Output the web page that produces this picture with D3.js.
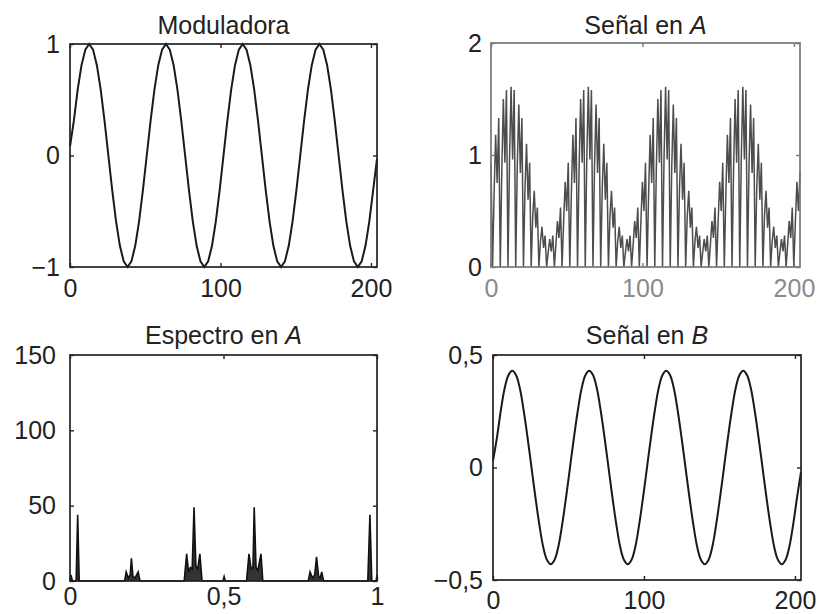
<!DOCTYPE html>
<html><head><meta charset="utf-8">
<script src="https://cdn.jsdelivr.net/npm/d3@7/dist/d3.min.js"></script>
<style>
body{margin:0;background:#fff}
text{font-family:"Liberation Sans",Arial,Helvetica,sans-serif}
</style>
</head><body>
<svg id="chart" width="827" height="614"></svg>
<script>
// ---------------- DATA ----------------
const timeTicks = [0, 100, 200];
const freqTicks = [0, 0.5, 1];
const freqTickLabels = ["0", "0,5", "1"];
const modTicks = [-1, 0, 1];
const aTicks = [0, 1, 2];
const specTicks = [0, 50, 100, 150];
const bTicks = [-0.5, 0, 0.5];
const bTickLabels = ["\u22120,5", "0", "0,5"];
const timeMax = 204;         // last sample index on the time axis
const sampleSpacing = 1.02;  // axis units per sample of the stored series

// Moduladora, one value every 2.5 samples
const moduladora = [
 0.08,0.31,0.59,0.81,0.95,1,0.95,0.81,0.59,0.31,0,-0.31,-0.59,-0.81,-0.95,-1,-0.95,-0.81,-0.59,-0.31,
 0,0.31,0.59,0.81,0.95,1,0.95,0.81,0.59,0.31,0,-0.31,-0.59,-0.81,-0.95,-1,-0.95,-0.81,-0.59,-0.31,
 0,0.31,0.59,0.81,0.95,1,0.95,0.81,0.59,0.31,0,-0.31,-0.59,-0.81,-0.95,-1,-0.95,-0.81,-0.59,-0.31,
 0,0.31,0.59,0.81,0.95,1,0.95,0.81,0.59,0.31,0,-0.31,-0.59,-0.81,-0.95,-1,-0.95,-0.81,-0.59,-0.31,
 -0.03];
const modStep = 2.5;

// Señal en A, one value per sample
const senalA = [
 0.93,0,0.65,1.18,0.75,1.33,0,0.87,1.50,0.93,1.58,0,0.97,1.61,0.96,1.58,0,0.90,1.45,0.84,1.33,0,0.70,1.10,0.60,0.93,0,0.45,0.68,0.35,0.53,0,0.23,0.36,0.17,0.28,0,0.13,0.25,0.14,0.28,0,0.20,0.41,0.26,0.53,0,0.40,0.76,0.50,
 0.93,0,0.65,1.18,0.75,1.33,0,0.87,1.50,0.93,1.58,0,0.97,1.61,0.96,1.58,0,0.90,1.45,0.84,1.33,0,0.70,1.10,0.60,0.93,0,0.45,0.68,0.35,0.53,0,0.23,0.36,0.17,0.28,0,0.13,0.25,0.14,0.28,0,0.20,0.41,0.26,0.53,0,0.40,0.76,0.50,
 0.93,0,0.65,1.18,0.75,1.33,0,0.87,1.50,0.93,1.58,0,0.97,1.61,0.96,1.58,0,0.90,1.45,0.84,1.33,0,0.70,1.10,0.60,0.93,0,0.45,0.68,0.35,0.53,0,0.23,0.36,0.17,0.28,0,0.13,0.25,0.14,0.28,0,0.20,0.41,0.26,0.53,0,0.40,0.76,0.50,
 0.93,0,0.65,1.18,0.75,1.33,0,0.87,1.50,0.93,1.58,0,0.97,1.61,0.96,1.58,0,0.90,1.45,0.84,1.33,0,0.70,1.10,0.60,0.93,0,0.45,0.68,0.35,0.53,0,0.23,0.36,0.17,0.28,0,0.13,0.25,0.14,0.28,0,0.20,0.41,0.26,0.53,0,0.40,0.76,0.50,
 0.85];

// Señal en B, one value every 2.5 samples
const senalB = [
 0.03,0.13,0.25,0.35,0.41,0.43,0.41,0.35,0.25,0.13,0,-0.13,-0.25,-0.35,-0.41,-0.43,-0.41,-0.35,-0.25,-0.13,
 0,0.13,0.25,0.35,0.41,0.43,0.41,0.35,0.25,0.13,0,-0.13,-0.25,-0.35,-0.41,-0.43,-0.41,-0.35,-0.25,-0.13,
 0,0.13,0.25,0.35,0.41,0.43,0.41,0.35,0.25,0.13,0,-0.13,-0.25,-0.35,-0.41,-0.43,-0.41,-0.35,-0.25,-0.13,
 0,0.13,0.25,0.35,0.41,0.43,0.41,0.35,0.25,0.13,0,-0.13,-0.25,-0.35,-0.41,-0.43,-0.41,-0.35,-0.25,-0.13,
 -0.02];
const bStep = 2.5;

// Espectro en A (normalised frequency, magnitude)
const specFreq = [0,0.003,0.008,0.02,0.025,0.03,
 0.178,0.183,0.19,0.196,0.2,0.205,0.212,0.222,0.228,
 0.372,0.38,0.386,0.392,0.398,0.404,0.41,0.416,0.423,0.43,
 0.498,0.502,0.506,
 0.575,0.583,0.59,0.596,0.6,0.606,0.612,0.622,0.628,
 0.776,0.782,0.79,0.797,0.803,0.81,0.815,0.82,0.826,
 0.97,0.977,0.983,0.997,1];
const specMag = [0,4,0,0,44,0,
 0,6,2,4,15,3,2,6,0,
 0,18,6,9,8,49,10,8,18,0,
 0,3,0,
 0,18,8,9,49,9,7,18,0,
 0,6,2,4,16,3,2,6,0,
 0,44,0,0,4];

// ---------------- DRAW ----------------
const svg = d3.select("#chart");
const FS = 25;

function panel(o) {
  const x = d3.scaleLinear().domain(o.xDomain).range([o.x0, o.x1]);
  const y = d3.scaleLinear().domain(o.yDomain).range([o.y1, o.y0]);
  const g = svg.append("g");
  // data
  o.draw(g, x, y);
  // box
  g.append("rect").attr("x", o.x0).attr("y", o.y0).attr("width", o.x1 - o.x0).attr("height", o.y1 - o.y0)
    .attr("fill", "none").attr("stroke", o.boxColor).attr("stroke-width", 1.7);
  // inward ticks
  const tk = (ax, tx, ty) => {
    const a = g.append("g").attr("transform", `translate(${tx},${ty})`).call(ax);
    a.select(".domain").remove();
    a.selectAll("line").attr("stroke", o.boxColor).attr("stroke-width", 1.4);
  };
  tk(d3.axisBottom(x).tickValues(o.xTicks).tickSize(-4).tickFormat(""), 0, o.y1);
  tk(d3.axisTop(x).tickValues(o.xTicks).tickSize(-4).tickFormat(""), 0, o.y0);
  tk(d3.axisLeft(y).tickValues(o.yTicks).tickSize(-4).tickFormat(""), o.x0, 0);
  tk(d3.axisRight(y).tickValues(o.yTicks).tickSize(-4).tickFormat(""), o.x1, 0);
  // labels
  const xa = g.append("g").attr("transform", `translate(0,${o.y1})`)
    .call(d3.axisBottom(x).tickValues(o.xTicks).tickSize(0).tickPadding(o.xPad).tickFormat((d, i) => o.xLabels[i]));
  xa.select(".domain").remove();
  xa.selectAll("text").attr("font-size", FS).attr("font-family", "Liberation Sans, Arial, sans-serif").attr("fill", o.xLabelColor);
  const ya = g.append("g").attr("transform", `translate(${o.x0},0)`)
    .call(d3.axisLeft(y).tickValues(o.yTicks).tickSize(0).tickPadding(o.yPad).tickFormat((d, i) => o.yLabels[i]));
  ya.select(".domain").remove();
  ya.selectAll("text").attr("font-size", FS).attr("font-family", "Liberation Sans, Arial, sans-serif").attr("fill", "#222");
  // title
  const t = g.append("text").attr("x", (o.x0 + o.x1) / 2).attr("y", o.titleY).attr("text-anchor", "middle")
    .attr("font-size", FS).attr("fill", "#222");
  t.append("tspan").text(o.title);
  if (o.titleItalic) t.append("tspan").attr("font-style", "italic").text(o.titleItalic);
}

// Moduladora
panel({
  x0: 70, x1: 377, y0: 44, y1: 267, xDomain: [0, timeMax], yDomain: [-1, 1],
  xTicks: timeTicks, xLabels: timeTicks.map(String), yTicks: modTicks, yLabels: ["\u22121", "0", "1"],
  xPad: 12, yPad: 10, boxColor: "#222", xLabelColor: "#222", title: "Moduladora", titleY: 34,
  draw: (g, x, y) => {
    g.append("path").datum(moduladora)
      .attr("d", d3.line().x((d, i) => x(i * modStep * sampleSpacing)).y(d => y(d)))
      .attr("fill", "none").attr("stroke", "#1a1a1a").attr("stroke-width", 2);
  }
});

// Señal en A
panel({
  x0: 491, x1: 800, y0: 43, y1: 267, xDomain: [0, timeMax], yDomain: [0, 2],
  xTicks: timeTicks, xLabels: timeTicks.map(String), yTicks: aTicks, yLabels: aTicks.map(String),
  xPad: 12, yPad: 9, boxColor: "#777", xLabelColor: "#8a8a8a", title: "Señal en ", titleItalic: "A", titleY: 34,
  draw: (g, x, y) => {
    g.append("path").datum(senalA)
      .attr("d", d3.line().x((d, i) => x(i * sampleSpacing)).y(d => y(d)))
      .attr("fill", "none").attr("stroke", "#4d4d4d").attr("stroke-width", 1.5);
  }
});

// Espectro en A
panel({
  x0: 70, x1: 377, y0: 355, y1: 581, xDomain: [0, 1], yDomain: [0, 150],
  xTicks: freqTicks, xLabels: freqTickLabels, yTicks: specTicks, yLabels: specTicks.map(String),
  xPad: 6, yPad: 14, boxColor: "#222", xLabelColor: "#222", title: "Espectro en ", titleItalic: "A", titleY: 344,
  draw: (g, x, y) => {
    const pts = specFreq.map((f, i) => [f, specMag[i]]);
    g.append("path").datum(pts)
      .attr("d", d3.area().x(d => x(d[0])).y0(y(0)).y1(d => y(d[1])))
      .attr("fill", "#333");
    g.append("path").datum(pts)
      .attr("d", d3.line().x(d => x(d[0])).y(d => y(d[1])))
      .attr("fill", "none").attr("stroke", "#111").attr("stroke-width", 1.6);
  }
});

// Señal en B
panel({
  x0: 493, x1: 801, y0: 355, y1: 580, xDomain: [0, timeMax], yDomain: [-0.5, 0.5],
  xTicks: timeTicks, xLabels: timeTicks.map(String), yTicks: bTicks, yLabels: bTickLabels,
  xPad: 11, yPad: 10, boxColor: "#222", xLabelColor: "#222", title: "Señal en ", titleItalic: "B", titleY: 344,
  draw: (g, x, y) => {
    g.append("path").datum(senalB)
      .attr("d", d3.line().curve(d3.curveCatmullRom).x((d, i) => x(i * bStep * sampleSpacing)).y(d => y(d)))
      .attr("fill", "none").attr("stroke", "#1a1a1a").attr("stroke-width", 2);
  }
});
</script>
</body></html>
